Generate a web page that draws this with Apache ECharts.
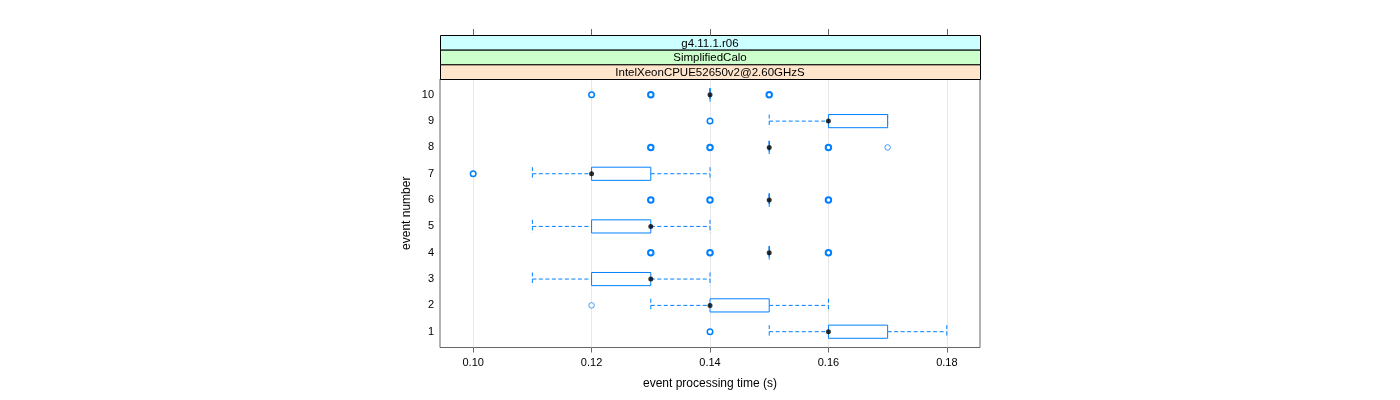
<!DOCTYPE html>
<html>
<head>
<meta charset="utf-8">
<script src="https://cdn.jsdelivr.net/npm/echarts@6/dist/echarts.min.js"></script>
<style>html,body{margin:0;padding:0;background:#fff;}#c{width:1400px;height:400px;}</style>
</head>
<body>
<div id="c"></div>
<script>
const events = [1, 2, 3, 4, 5, 6, 7, 8, 9, 10];
const whiskerLow  = [0.15, 0.13, 0.11, 0.15, 0.11, 0.15, 0.11, 0.15, 0.15, 0.14];
const q1          = [0.16, 0.14, 0.12, 0.15, 0.12, 0.15, 0.12, 0.15, 0.16, 0.14];
const medians     = [0.16, 0.14, 0.13, 0.15, 0.13, 0.15, 0.12, 0.15, 0.16, 0.14];
const q3          = [0.17, 0.15, 0.13, 0.15, 0.13, 0.15, 0.13, 0.15, 0.17, 0.14];
const whiskerHigh = [0.18, 0.16, 0.14, 0.15, 0.14, 0.15, 0.14, 0.15, 0.17, 0.14];
const outlierEvents = [1, 2, 4, 4, 4, 6, 6, 6, 7, 8, 8, 8, 8, 9, 10, 10, 10];
const outlierValues = [0.14, 0.12, 0.13, 0.14, 0.16, 0.13, 0.14, 0.16, 0.10, 0.13, 0.14, 0.16, 0.17, 0.14, 0.12, 0.13, 0.15];
const outlierCounts = [2, 1, 3, 3, 3, 3, 3, 3, 2, 3, 3, 3, 1, 2, 2, 3, 3];
const xTicks = [0.10, 0.12, 0.14, 0.16, 0.18];
const yTicks = [1, 2, 3, 4, 5, 6, 7, 8, 9, 10];
const stripLabels = ['g4.11.1.r06', 'SimplifiedCalo', 'IntelXeonCPUE52650v2@2.60GHzS'];
const stripColors = ['#ccffff', '#ccffcc', '#ffe5cc'];

const BLUE = '#0080ff';
const FONT = 'Liberation Sans, Arial, sans-serif';

const boxData = events.map((e, i) => [e, whiskerLow[i], q1[i], medians[i], q3[i], whiskerHigh[i]]);
const outlierData = outlierEvents.map((e, i) => {
  const c = outlierCounts[i];
  return {
    value: [outlierValues[i], e],
    itemStyle: {
      color: '#fff',
      borderWidth: c >= 3 ? 2 : (c === 2 ? 1.5 : 1),
      borderColor: BLUE,
      opacity: c === 1 ? 0.75 : 1
    }
  };
});
const medianData = events.map((e, i) => [medians[i], e]);

function renderBox(params, api) {
  const ev = api.value(0);
  const lw = api.value(1), b1 = api.value(2), b3 = api.value(4), hw = api.value(5);
  const h = api.size([0, 0.5])[1];
  const pL = api.coord([lw, ev]);
  const p1 = api.coord([b1, ev]);
  const p3 = api.coord([b3, ev]);
  const pH = api.coord([hw, ev]);
  const y = pL[1];
  const dashStyle = { stroke: BLUE, lineWidth: 1, lineDash: [4, 2.5], fill: null };
  const children = [];
  children.push({ type: 'line', shape: { x1: pL[0], y1: y, x2: p1[0], y2: y }, style: dashStyle });
  children.push({ type: 'line', shape: { x1: p3[0], y1: y, x2: pH[0], y2: y }, style: dashStyle });
  children.push({ type: 'line', shape: { x1: pL[0], y1: y - h / 2, x2: pL[0], y2: y + h / 2 }, style: dashStyle });
  children.push({ type: 'line', shape: { x1: pH[0], y1: y - h / 2, x2: pH[0], y2: y + h / 2 }, style: dashStyle });
  if (p3[0] - p1[0] < 0.5) {
    children.push({ type: 'line', shape: { x1: p1[0], y1: y - h / 2, x2: p1[0], y2: y + h / 2 }, style: { stroke: BLUE, lineWidth: 1 } });
  } else {
    children.push({ type: 'rect', shape: { x: p1[0], y: y - h / 2, width: p3[0] - p1[0], height: h }, style: { stroke: BLUE, lineWidth: 1, fill: '#fff' } });
  }
  return { type: 'group', children: children };
}

const gridL = 440, gridR = 980, gridT = 79, gridB = 347.5;
const stripTop = 35, stripH = (gridT - stripTop) / 3;
const graphics = [];
stripLabels.forEach((lab, i) => {
  const yy = stripTop + i * stripH;
  graphics.push({
    type: 'rect', z: 10,
    shape: { x: gridL + 0.5, y: yy + 0.5, width: gridR - gridL, height: stripH },
    style: { fill: stripColors[i], stroke: '#000', lineWidth: 1 }
  });
  graphics.push({
    type: 'text', z: 11,
    style: { x: (gridL + gridR) / 2, y: yy + stripH / 2 + 1, text: lab, align: 'center', verticalAlign: 'middle', font: '11.5px ' + FONT, fill: '#000' }
  });
});

const chart = echarts.init(document.getElementById('c'), null, { renderer: 'canvas' });
chart.setOption({
  animation: false,
  backgroundColor: '#fff',
  grid: { left: gridL, right: 1400 - gridR, top: gridT, bottom: 400 - gridB, show: true, borderColor: '#666', borderWidth: 1, backgroundColor: 'transparent' },
  graphic: graphics,
  xAxis: [{
    type: 'value', min: 0.0944, max: 0.1856, position: 'bottom',
    name: 'event processing time (s)', nameLocation: 'middle', nameGap: 30,
    nameTextStyle: { fontSize: 12, fontFamily: FONT, color: '#000' },
    axisLine: { show: false },
    axisTick: { show: true, length: 5, lineStyle: { color: '#666' }, customValues: xTicks },
    axisLabel: { show: true, margin: 10, fontSize: 11, fontFamily: FONT, color: '#000', customValues: xTicks, formatter: v => v.toFixed(2) },
    splitLine: { show: true, lineStyle: { color: '#e8e8e8', width: 1 } }
  }, {
    type: 'value', min: 0.0944, max: 0.1856, position: 'top', offset: gridT - stripTop,
    axisLine: { show: false },
    axisTick: { show: true, length: 6, lineStyle: { color: '#666' }, customValues: xTicks },
    axisLabel: { show: false },
    splitLine: { show: false }
  }],
  yAxis: {
    type: 'value', min: 0.4, max: 10.6,
    name: 'event number', nameLocation: 'middle', nameGap: 27, nameRotate: 90,
    nameTextStyle: { fontSize: 12, fontFamily: FONT, color: '#000' },
    axisLine: { show: false },
    axisTick: { show: false, customValues: yTicks },
    axisLabel: { show: true, margin: 6, fontSize: 11, fontFamily: FONT, color: '#000', customValues: yTicks, formatter: v => String(v) },
    splitLine: { show: false }
  },
  series: [{
    type: 'custom', xAxisIndex: 0, renderItem: renderBox,
    encode: { x: [1, 2, 3, 4, 5], y: 0 },
    data: boxData, z: 2
  }, {
    type: 'scatter', xAxisIndex: 0, symbol: 'circle', symbolSize: 5.5,
    itemStyle: { color: '#fff', borderColor: BLUE },
    data: outlierData, z: 3
  }, {
    type: 'scatter', xAxisIndex: 0, symbol: 'circle', symbolSize: 5,
    itemStyle: { color: '#000' }, data: medianData, z: 4
  }]
});
</script>
</body>
</html>
